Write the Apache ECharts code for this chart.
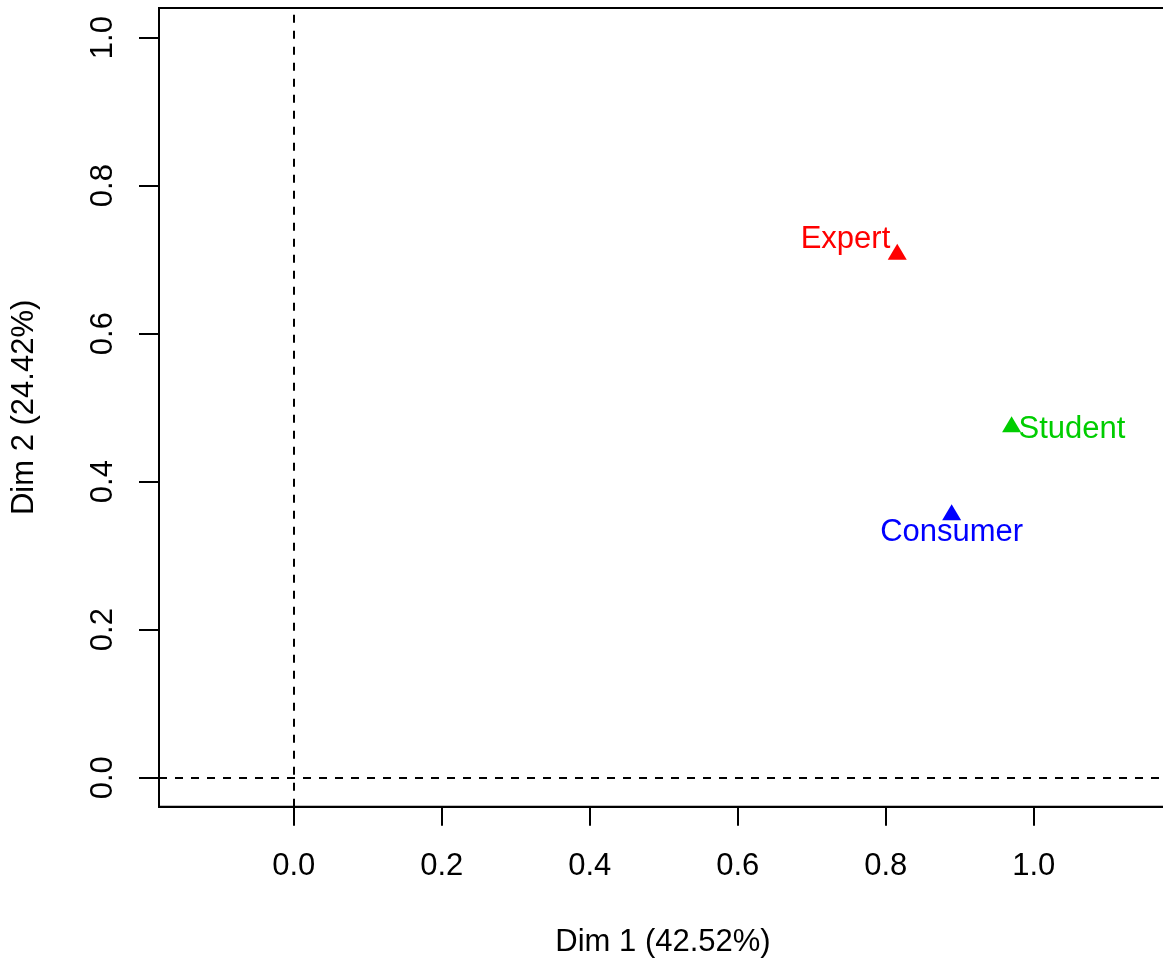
<!DOCTYPE html>
<html>
<head>
<meta charset="utf-8">
<script src="https://cdn.jsdelivr.net/npm/echarts@6/dist/echarts.min.js"></script>
<style>
  html, body { margin: 0; padding: 0; background: #fff; }
  #chart { width: 1163px; height: 962px; }
</style>
</head>
<body>
<div id="chart"></div>
<script>
// groups and their coordinates on the first two dimensions
const groups = ['Expert', 'Student', 'Consumer']
const dim1 = [0.8155, 0.970, 0.889]
const dim2 = [0.707, 0.474, 0.355]
const colors = ['#FF0000', '#00CD00', '#0000FF']

// tick labels
const xTicks = [0.0, 0.2, 0.4, 0.6, 0.8, 1.0]
const yTicks = [0.0, 0.2, 0.4, 0.6, 0.8, 1.0]

// label placement around each triangle (like text(pos=...) in R)
const labelAlign = ['right', 'left', 'center']
const labelOffset = [[-7, -12], [7, 5], [0, 20]]

const font = 'Liberation Sans, Arimo, Arial, sans-serif'
const fs = 31

const chart = echarts.init(document.getElementById('chart'))

const series = groups.map((g, i) => ({
  name: g,
  type: 'scatter',
  symbol: 'triangle',
  symbolSize: [19, 16],
  symbolOffset: [0, -2.7],
  itemStyle: { color: colors[i], opacity: 1 },
  label: {
    show: true,
    position: 'inside',
    align: labelAlign[i],
    verticalAlign: 'middle',
    offset: labelOffset[i],
    formatter: g,
    color: colors[i],
    fontSize: fs,
    fontFamily: font
  },
  data: [[dim1[i], dim2[i]]],
  animation: false,
  z: 3
}))

// dashed reference lines at 0
series.push({
  type: 'scatter',
  data: [],
  silent: true,
  markLine: {
    silent: true,
    symbol: 'none',
    label: { show: false },
    lineStyle: { color: '#000', width: 2, type: [8, 8] },
    data: [{ xAxis: 0 }, { yAxis: 0 }],
    animation: false
  }
})

chart.setOption({
  animation: false,
  grid: {
    left: 159,
    top: 8,
    width: 1008,
    height: 798.7,
    outerBoundsMode: 'none',
    containLabel: false,
    show: true,
    borderColor: '#000',
    borderWidth: 2,
    backgroundColor: 'transparent'
  },
  xAxis: {
    type: 'value',
    min: -0.182,
    max: 1.18,
    name: 'Dim 1 (42.52%)',
    nameLocation: 'middle',
    nameGap: 120,
    nameTextStyle: { color: '#000', fontSize: fs, fontFamily: font },
    axisLine: { show: true, onZero: false, lineStyle: { color: '#000', width: 2 } },
    axisTick: { show: true, length: 19, lineStyle: { color: '#000', width: 2 }, customValues: xTicks },
    axisLabel: {
      color: '#000', fontSize: fs, fontFamily: font, margin: 44,
      customValues: xTicks,
      formatter: v => v.toFixed(1)
    },
    splitLine: { show: false }
  },
  yAxis: {
    type: 'value',
    min: -0.0392,
    max: 1.040,
    name: 'Dim 2 (24.42%)',
    nameLocation: 'middle',
    nameGap: 119,
    nameTextStyle: { color: '#000', fontSize: fs, fontFamily: font },
    axisLine: { show: true, onZero: false, lineStyle: { color: '#000', width: 2 } },
    axisTick: { show: true, length: 20, lineStyle: { color: '#000', width: 2 }, customValues: yTicks },
    axisLabel: {
      color: '#000', fontSize: fs, fontFamily: font, margin: 40, rotate: 90,
      customValues: yTicks,
      formatter: v => v.toFixed(1)
    },
    splitLine: { show: false }
  },
  series: series
})
</script>
</body>
</html>
